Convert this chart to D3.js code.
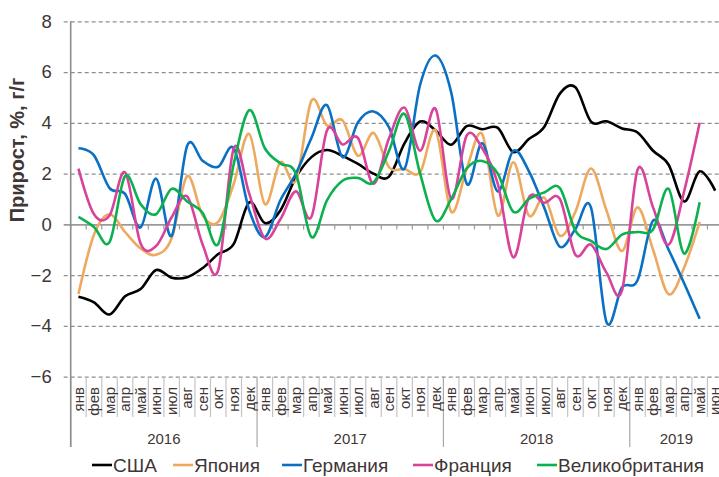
<!DOCTYPE html>
<html>
<head>
<meta charset="utf-8">
<script src="https://cdn.jsdelivr.net/npm/d3@7"></script>
<style>
    body { margin: 0; background: #fff; }
    text { font-family: "Liberation Sans", Arial, sans-serif; fill: #3f3636; }
</style>
</head>
<body>
<svg id="chart" width="719" height="477"></svg>
<script>
// подписи оси X
var monthNames = ["янв", "фев", "мар", "апр", "май", "июн", "июл", "авг", "сен", "окт", "ноя", "дек"];
var years = ["2016", "2017", "2018", "2019"];
var monthsPerYear = [12, 12, 12, 6];
var yTicks = [-6, -4, -2, 0, 2, 4, 6, 8];

// прирост, %, г/г
var usa = [-2.85, -3.07, -3.55, -2.83, -2.55, -1.8, -2.1, -2.08, -1.72, -1.17, -0.77, 0.87,
    0.05, 0.55, 1.85, 2.65, 2.93, 2.7, 2.38, 2.0, 1.88, 3.2, 4.05, 3.7,
    3.14, 3.87, 3.75, 3.8, 2.85, 3.36, 3.85, 5.15, 5.4, 4.05, 4.06, 3.78,
    3.62, 2.9, 2.35, 0.9, 2.09, 1.33];
var japan = [-2.74, -0.4, 0.4, -0.3, -0.95, -1.2, -0.55, 1.9, 0.35, 0.1, 1.6, 3.56,
    0.8, 2.45, 1.72, 4.87, 3.9, 4.1, 2.7, 3.6, 2.25, 2.18, 2.05, 3.7,
    0.5, 2.2, 3.55, 0.35, 2.45, 0.35, 1.05, -0.45, 0.5, 2.2, 0.55, -1.05,
    0.67, -1.0, -2.75, -1.7, 0.1];
var germany = [3.0, 2.72, 1.43, 1.2, -0.12, 1.8, -0.45, 3.1, 2.5, 2.27, 3.0, 0.55,
    -0.5, 0.95, 2.0, 3.4, 4.7, 2.65, 4.02, 4.45, 3.82, 2.2, 5.5, 6.65,
    5.2, 1.6, 3.2, 1.3, 2.9, 2.1, 0.65, -0.88, -0.18, 0.67, -3.85, -2.48,
    -2.2, 0.15, -1.0, -2.32, -3.72];
var france = [2.2, 0.4, 0.35, 2.05, -0.75, -0.85, 0.28, 1.1, -0.8, -1.8, 3.0, 1.2,
    -0.55, 0.2, 1.3, 0.3, 3.7, 3.15, 3.4, 1.6, 3.4, 4.6, 2.9, 4.55,
    1.0, 3.5, 3.0, 1.6, -1.3, 1.05, 0.85, 1.0, -1.2, -0.8, -1.9, -2.6,
    2.15, 0.67, -0.8, 1.3, 4.0];
var uk = [0.3, -0.1, -0.7, 1.9, 0.8, 0.4, 1.4, 0.9, 0.45, -0.77, 2.38, 4.5,
    3.0, 2.4, 2.0, -0.5, 0.95, 1.72, 1.83, 1.65, 2.9, 4.35, 2.0, 0.15,
    1.0, 2.2, 2.5, 2.0, 0.5, 1.0, 1.26, 1.43, -0.25, -0.65, -0.97, -0.4,
    -0.3, -0.2, 1.4, -1.15, 0.87];

var series = [
    { name: "США", color: "#000000", values: usa },
    { name: "Япония", color: "#eda95e", values: japan },
    { name: "Германия", color: "#0a70c4", values: germany },
    { name: "Франция", color: "#d8429a", values: france },
    { name: "Великобритания", color: "#0bb04f", values: uk }
];

var cats = [];
years.forEach(function(yr, k) {
    for (var j = 0; j < monthsPerYear[k]; j++) cats.push({ year: yr, month: monthNames[j] });
});

var svg = d3.select("#chart");
var left = 70.7, step = 15.53;
var right = left + step * cats.length;

var x = d3.scaleBand().domain(d3.range(cats.length)).range([left, right]).padding(0);
var y = d3.scaleLinear().domain([-6, 8]).range([376.7, 21.3]);
var cx = function(i) { return x(i) + x.bandwidth() / 2; };

// сетка
svg.append("g")
    .attr("transform", "translate(" + left + ",0)")
    .call(d3.axisLeft(y).tickValues(yTicks).tickFormat(d3.format("d"))
        .tickSize(-(right - left)).tickPadding(19))
    .call(function(g) {
        g.select(".domain").remove();
        g.selectAll(".tick line")
            .attr("x1", -7)
            .attr("stroke", "#8e8e8e")
            .attr("stroke-dasharray", "4,3")
            .attr("stroke-width", 1.2);
        g.selectAll(".tick text")
            .attr("font-size", 18.5)
            .attr("font-family", "Liberation Sans, Arial, sans-serif")
            .attr("fill", "#3f3636");
        g.selectAll(".tick").filter(function(d) { return d === 0; }).select("line")
            .attr("stroke-dasharray", null).attr("stroke", "#9a9a9a").attr("stroke-width", 1.6);
    });

// деления на нулевой линии
svg.append("g").selectAll("line")
    .data(d3.range(cats.length + 1))
    .join("line")
    .attr("x1", function(i) { return left + i * step; })
    .attr("x2", function(i) { return left + i * step; })
    .attr("y1", y(0))
    .attr("y2", y(0) + 5)
    .attr("stroke", "#9a9a9a")
    .attr("stroke-width", 1.2);

// разделители месяцев и лет
var yearStart = [0];
monthsPerYear.forEach(function(n, k) { yearStart.push(yearStart[k] + n); });

svg.append("g").selectAll("line")
    .data(d3.range(cats.length + 1))
    .join("line")
    .attr("x1", function(i) { return left + i * step; })
    .attr("x2", function(i) { return left + i * step; })
    .attr("y1", y(-6))
    .attr("y2", function(i) { return yearStart.indexOf(i) >= 0 ? 447 : 417; })
    .attr("stroke", function(i) { return yearStart.indexOf(i) >= 0 ? "#a8a8a8" : "#c4c4c4"; })
    .attr("stroke-width", 1.2);

// ось Y
svg.append("line")
    .attr("x1", left).attr("x2", left)
    .attr("y1", y(8)).attr("y2", 447)
    .attr("stroke", "#8e8e8e").attr("stroke-width", 1.6);

// подписи месяцев
svg.append("g").selectAll("text")
    .data(cats)
    .join("text")
    .attr("transform", function(d, i) { return "translate(" + cx(i) + ",387) rotate(-90)"; })
    .attr("dy", "0.35em")
    .attr("text-anchor", "end")
    .attr("font-size", 15)
    .text(function(d) { return d.month; });

// подписи лет
svg.append("g").selectAll("text")
    .data(years)
    .join("text")
    .attr("x", function(d, k) { return left + (yearStart[k] + monthsPerYear[k] / 2) * step; })
    .attr("y", 444)
    .attr("text-anchor", "middle")
    .attr("font-size", 15)
    .text(function(d) { return d; });

// заголовок оси
svg.append("text")
    .attr("transform", "translate(24,150) rotate(-90)")
    .attr("text-anchor", "middle")
    .attr("font-size", 20)
    .attr("font-weight", "bold")
    .text("Прирост, %, г/г");

// линии
var line = d3.line()
    .x(function(d, i) { return cx(i); })
    .y(function(d) { return y(d); })
    .curve(d3.curveCardinal.tension(0));

svg.append("g").selectAll("path")
    .data(series)
    .join("path")
    .attr("d", function(s) { return line(s.values); })
    .attr("fill", "none")
    .attr("stroke", function(s) { return s.color; })
    .attr("stroke-width", 2.6)
    .attr("stroke-linejoin", "round");

// легенда
var legendX = [92, 173, 282, 413, 537];
var lg = svg.append("g").selectAll("g")
    .data(series)
    .join("g")
    .attr("transform", function(d, k) { return "translate(" + legendX[k] + ",0)"; });
lg.append("line")
    .attr("x1", 0).attr("x2", 20)
    .attr("y1", 465).attr("y2", 465)
    .attr("stroke", function(d) { return d.color; })
    .attr("stroke-width", 2.6);
lg.append("text")
    .attr("x", 21)
    .attr("y", 472)
    .attr("font-size", 19)
    .text(function(d) { return d.name; });
</script>
</body>
</html>
